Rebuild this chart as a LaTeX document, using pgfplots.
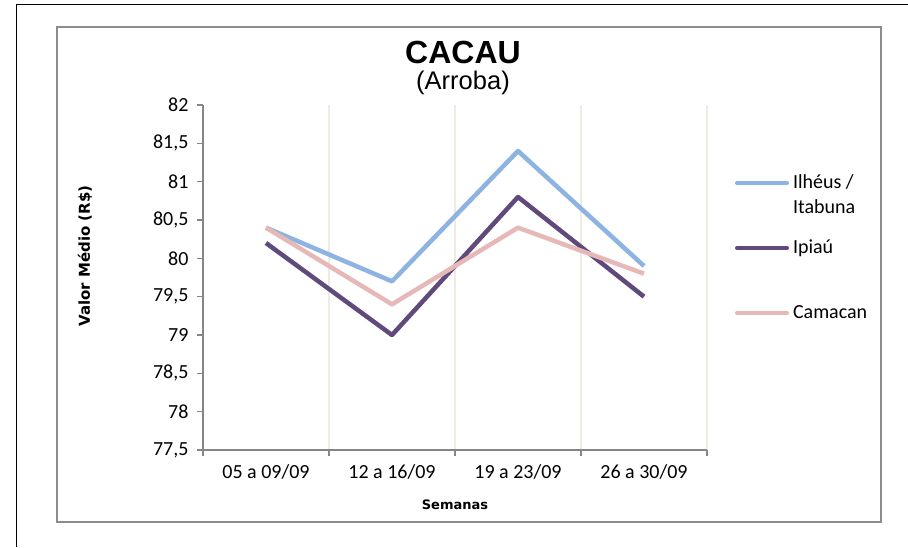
\documentclass[border=0pt]{standalone}
\usepackage{pgfplots}
\pgfplotsset{compat=1.18}
\usepackage{fontspec}
\setmainfont{Carlito}
\newfontfamily\arialfont{Liberation Sans}
\newfontfamily\labelfont{DejaVu Sans}
\definecolor{ilheus}{HTML}{8DB3E2}
\definecolor{ipiau}{HTML}{604A7B}
\definecolor{camacan}{HTML}{E6B9B8}
\definecolor{gridc}{HTML}{EEECE1}
\definecolor{axisc}{HTML}{868686}
\definecolor{framec}{HTML}{8C8C8C}
\begin{document}
\begin{tikzpicture}[x=1pt,y=1pt]
\useasboundingbox (0,0) rectangle (908,547);
\fill[white] (0,0) rectangle (908,547);
\draw[black, line width=1pt] (16,0) -- (16,542) -- (908,542);
\draw[framec, line width=1.5pt] (57,25) rectangle (881,520);
\node[font=\arialfont\bfseries\fontsize{32}{36}\selectfont] at (463,495) {CACAU};
\node[font=\arialfont\fontsize{25.5}{28}\selectfont] at (463,464) {(Arroba)};
\begin{axis}[
  at={(203pt,97pt)}, anchor=south west,
  scale only axis, width=504pt, height=345pt,
  xmin=-0.5, xmax=3.5, ymin=77.5, ymax=82,
  axis x line*=bottom, axis y line*=left,
  axis line style={-, draw=axisc, line width=1.5pt},
  xtick={-0.5,0.5,1.5,2.5,3.5},
  x tick label as interval,
  xticklabels={05 a 09/09, 12 a 16/09, 19 a 23/09, 26 a 30/09},
  ytick={77.5,78,78.5,79,79.5,80,80.5,81,81.5,82},
  tick align=outside, major tick length=6pt,
  tick style={draw=axisc, line width=1.2pt},
  xmajorgrids, major x grid style={draw=gridc, line width=1.2pt},
  /pgf/number format/use comma,
  /pgf/number format/assume math mode=true,
  ticklabel style={font=\fontsize{20}{24}\selectfont, text=black},
  yticklabel style={xshift=-5pt},
  xticklabel style={yshift=-5pt},
  xlabel={Semanas},
  ylabel={Valor Médio (R\$)},
  xlabel style={font=\labelfont\bfseries\fontsize{13}{15}\selectfont, at={(axis description cs:0.5,-0.16)}, anchor=center},
  ylabel style={font=\labelfont\bfseries\fontsize{15}{17}\selectfont, at={(axis description cs:-0.234,0.562)}, anchor=center},
  legend cell align=left,
  legend image code/.code={\draw[#1, line width=4pt, line cap=round] (0pt,0pt) -- (50pt,0pt);},
  legend style={draw=none, fill=none, inner sep=0pt, outer sep=0pt,
    at={(axis description cs:1.0556,0.80)}, anchor=north west,
    font=\fontsize{20}{24}\selectfont,
    nodes={inner sep=0pt, text height=14pt, text depth=4pt},
    row sep=47pt, column sep=4pt},
  every axis plot/.append style={line width=4.5pt, line join=round},
]
\addplot[ilheus] coordinates {(0,80.4) (1,79.7) (2,81.4) (3,79.9)};
\addlegendentry{\makebox[0pt][l]{\raisebox{-25pt}[0pt][0pt]{Itabuna}}Ilhéus /}
\addplot[ipiau] coordinates {(0,80.2) (1,79.0) (2,80.8) (3,79.5)};
\addlegendentry{Ipiaú}
\addplot[camacan] coordinates {(0,80.4) (1,79.4) (2,80.4) (3,79.8)};
\addlegendentry{Camacan}
\end{axis}
\end{tikzpicture}
\end{document}
